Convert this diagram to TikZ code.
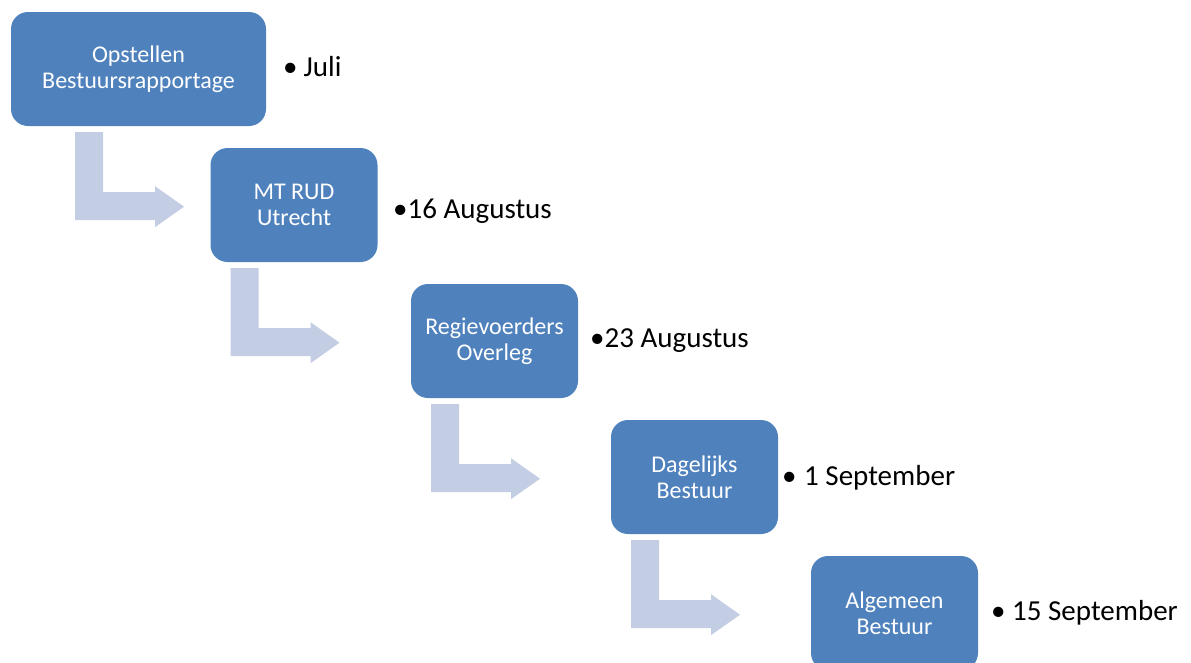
\documentclass[tikz,border=0pt]{standalone}
\usepackage{fontspec}
\setmainfont{Carlito}
\definecolor{boxblue}{HTML}{4F81BD}
\definecolor{arrowblue}{HTML}{C3CDE3}
\tikzset{
  box/.style={fill=boxblue, draw=none, rounded corners=17pt, minimum height=114pt,
    align=center, text=white, font=\fontsize{24}{26}\selectfont, inner sep=0pt},
  datelabel/.style={anchor=base west, inner sep=0pt, font=\fontsize{29}{34}\selectfont},
  bentarrow/.style={fill=arrowblue, draw=none}
}
\begin{document}
\begin{tikzpicture}[x=1pt,y=-1pt]
\clip (0,0) rectangle (1191,662);
\useasboundingbox (0,0) rectangle (1191,662);
\node[box, minimum width=255pt] (b1) at (138.5,69) {Opstellen\\Bestuursrapportage};
\node[box, minimum width=167pt] (b2) at (294,205) {MT RUD\\Utrecht};
\node[box, minimum width=167pt] (b3) at (494.5,341) {Regievoerders\\Overleg};
\node[box, minimum width=167pt] (b4) at (694.5,477) {Dagelijks\\Bestuur};
\node[box, minimum width=167pt] (b5) at (894.5,613) {Algemeen\\Bestuur};
\foreach \b in {b1,b2,b3,b4}{
  \fill[bentarrow, shift={(\b.south)}] (-63.5,6) -- (-35.5,6) -- (-35.5,66) -- (16.5,66) -- (16.5,60) -- (45.5,80.5) -- (16.5,101) -- (16.5,94) -- (-63.5,94) -- cycle;
}
\node[datelabel] (l1) at (283,76) {•\kern-0.5pt\ Juli};
\node[datelabel] (l2) at (393,218) {•16 Augustus};
\node[datelabel] (l3) at (590,347) {•23 Augustus};
\node[datelabel] (l4) at (782,485) {•\kern1pt\ 1 September};
\node[datelabel] (l5) at (991,620) {• 15 September};
\end{tikzpicture}
\end{document}
